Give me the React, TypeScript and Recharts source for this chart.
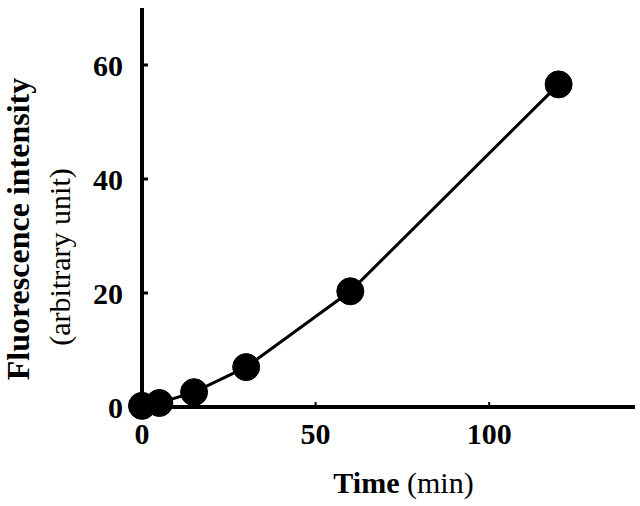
import React from 'react';
import { LineChart, Line, XAxis, YAxis, Label } from 'recharts';

const times = [0, 5, 15, 30, 60, 120];
const intensity = [0.2, 0.7, 2.6, 7.0, 20.3, 56.6];
const xTicks = [0, 50, 100];
const yTicks = [0, 20, 40, 60];

const data = times.map((t, i) => ({ t, v: intensity[i] }));
const FONT = '"Liberation Serif", "Times New Roman", serif';

const YTick = (props: any) => {
  const { x, y, payload } = props;
  return (
    <g>
      <line x1={x} x2={x + 6} y1={y} y2={y} stroke="#000" strokeWidth={3} />
      <text x={x - 19} y={y} textAnchor="end" dominantBaseline="central" fontFamily={FONT} fontWeight="bold" fontSize={30} fill="#000">
        {payload.value}
      </text>
    </g>
  );
};

const XTick = (props: any) => {
  const { x, y, payload } = props;
  return (
    <g>
      <line x1={x} x2={x} y1={y} y2={y - 5} stroke="#000" strokeWidth={2} />
      <text x={x} y={y + 37} textAnchor="middle" fontFamily={FONT} fontWeight="bold" fontSize={30} fill="#000">
        {payload.value}
      </text>
    </g>
  );
};

const XTitle = (props: any) => {
  const { viewBox } = props;
  const cx = viewBox.x + viewBox.width / 2 + 15;
  return (
    <text x={cx} y={viewBox.y + 86} textAnchor="middle" fontFamily={FONT} fontSize={30} fill="#000">
      <tspan fontWeight="bold">Time</tspan>
      <tspan> (min)</tspan>
    </text>
  );
};

const YTitle = () => (
  <g>
    <text x={29} y={229} transform="rotate(-90 29 229)" textAnchor="middle" fontFamily={FONT} fontWeight="bold" fontSize={32} fill="#000">
      Fluorescence intensity
    </text>
    <text x={70} y={257} transform="rotate(-90 70 257)" textAnchor="middle" fontFamily={FONT} fontSize={30} fill="#000">
      (arbitrary unit)
    </text>
  </g>
);

export default function App() {
  return (
    <div style={{ position: 'absolute', left: 0, top: 0, width: 640, height: 506, background: '#fff' }}>
      <LineChart width={640} height={506} data={data} margin={{ top: 8, right: 5, left: 0, bottom: 0 }}>
        <XAxis
          dataKey="t"
          type="number"
          domain={[0, 142]}
          ticks={xTicks}
          height={99}
          axisLine={{ stroke: '#000', strokeWidth: 4 }}
          tickLine={false}
          tickSize={0}
          tickMargin={0}
          tick={<XTick />}
        >
          <Label content={<XTitle />} />
        </XAxis>
        <YAxis
          type="number"
          domain={[0, 70]}
          ticks={yTicks}
          width={142}
          axisLine={{ stroke: '#000', strokeWidth: 4 }}
          tickLine={false}
          tickSize={0}
          tickMargin={0}
          tick={<YTick />}
        >
          <Label content={<YTitle />} />
        </YAxis>
        <Line
          dataKey="v"
          stroke="#000"
          strokeWidth={3}
          isAnimationActive={false}
          dot={{ r: 13.5, fill: '#000', stroke: '#000', strokeWidth: 1 }}
          activeDot={false}
        />
      </LineChart>
    </div>
  );
}
